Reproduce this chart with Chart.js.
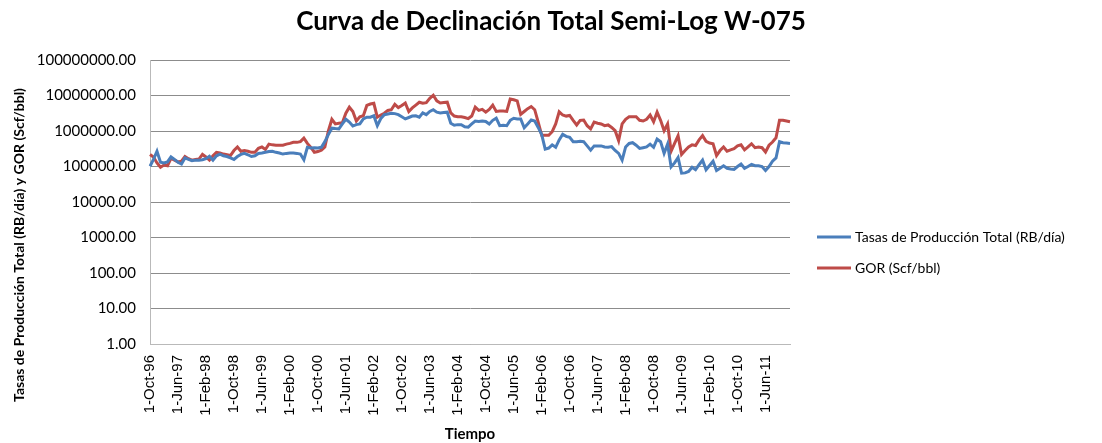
<!DOCTYPE html>
<html>
<head>
<meta charset="utf-8">
<script src="https://cdn.jsdelivr.net/npm/chart.js@4/dist/chart.umd.min.js"></script>
<style>
  html, body { margin: 0; padding: 0; background: #fff; }
  #wrap { width: 1102px; height: 443px; position: relative; }
</style>
</head>
<body>
<div id="wrap"><canvas id="chart" width="1102" height="443"></canvas></div>
<script>
// monthly data, Oct-96 .. Jan-12
const startYear = 1996;
const startMonth = 9; // October (0-based)
const monthNames = ['Jan', 'Feb', 'Mar', 'Apr', 'May', 'Jun', 'Jul', 'Aug', 'Sep', 'Oct', 'Nov', 'Dec'];

const tickLabels = ['1-Oct-96', '1-Jun-97', '1-Feb-98', '1-Oct-98', '1-Jun-99', '1-Feb-00', '1-Oct-00',
  '1-Jun-01', '1-Feb-02', '1-Oct-02', '1-Jun-03', '1-Feb-04', '1-Oct-04', '1-Jun-05', '1-Feb-06',
  '1-Oct-06', '1-Jun-07', '1-Feb-08', '1-Oct-08', '1-Jun-09', '1-Feb-10', '1-Oct-10', '1-Jun-11'];

const tasas = [
  102000, 158000, 269000, 132000, 126000, 135000, 186000, 158000, 132000, 117000,
  174000, 158000, 145000, 151000, 151000, 155000, 166000, 195000, 151000, 200000,
  224000, 200000, 191000, 174000, 158000, 191000, 219000, 234000, 214000, 191000,
  200000, 234000, 240000, 251000, 263000, 269000, 251000, 240000, 224000, 234000,
  240000, 240000, 234000, 224000, 155000, 347000, 331000, 339000, 331000, 347000,
  501000, 794000, 1200000, 1170000, 1150000, 1580000, 2140000, 1780000, 1380000, 1510000,
  1580000, 2190000, 2450000, 2450000, 2690000, 1410000, 2240000, 2880000, 3020000, 3160000,
  3090000, 2880000, 2510000, 2190000, 2400000, 2630000, 2690000, 2450000, 3240000, 2880000,
  3550000, 3980000, 3390000, 3240000, 3310000, 3390000, 1660000, 1450000, 1510000, 1510000,
  1320000, 1290000, 1580000, 1910000, 1860000, 1910000, 1860000, 1580000, 2000000, 2290000,
  1410000, 1450000, 1410000, 2000000, 2290000, 2190000, 2190000, 1230000, 1580000, 2040000,
  1910000, 1260000, 794000, 309000, 331000, 407000, 347000, 562000, 813000, 708000,
  661000, 501000, 501000, 513000, 501000, 380000, 288000, 380000, 380000, 380000,
  355000, 347000, 363000, 282000, 234000, 151000, 355000, 447000, 468000, 398000,
  324000, 339000, 355000, 427000, 347000, 589000, 501000, 234000, 427000, 97700,
  126000, 178000, 64600, 66100, 72400, 95500, 81300, 112000, 151000, 81300,
  107000, 141000, 77600, 89100, 105000, 89100, 85100, 83200, 100000, 117000,
  89100, 100000, 115000, 105000, 105000, 100000, 77600, 100000, 141000, 174000,
  501000, 468000, 457000, 447000
];

const gor = [
  219000, 186000, 126000, 95500, 110000, 105000, 170000, 151000, 135000, 141000,
  191000, 166000, 151000, 158000, 162000, 219000, 186000, 151000, 200000, 251000,
  240000, 224000, 214000, 204000, 282000, 355000, 269000, 282000, 269000, 251000,
  251000, 324000, 355000, 302000, 427000, 407000, 398000, 398000, 398000, 427000,
  447000, 479000, 479000, 501000, 631000, 447000, 347000, 251000, 263000, 288000,
  355000, 1000000, 2140000, 1580000, 1660000, 1700000, 3160000, 4680000, 3550000, 1910000,
  2510000, 2690000, 5250000, 5750000, 6030000, 2450000, 2820000, 3160000, 3800000, 3980000,
  5620000, 4570000, 5250000, 6170000, 3550000, 4470000, 5370000, 6460000, 6030000, 6310000,
  8320000, 10200000, 7080000, 6170000, 6310000, 6460000, 3240000, 2630000, 2510000, 2510000,
  2400000, 2240000, 2630000, 4680000, 3800000, 4070000, 3390000, 4070000, 5370000, 3550000,
  3630000, 3630000, 3550000, 7940000, 7590000, 7080000, 2950000, 3550000, 4270000, 4900000,
  3980000, 1780000, 759000, 759000, 759000, 955000, 1580000, 3470000, 2820000, 2630000,
  2750000, 2000000, 1480000, 2000000, 2040000, 1410000, 1150000, 1780000, 1660000, 1580000,
  1410000, 1480000, 1260000, 1020000, 537000, 1580000, 2140000, 2510000, 2510000, 2510000,
  2000000, 1910000, 2140000, 2820000, 1820000, 3390000, 2000000, 1020000, 1580000, 269000,
  447000, 741000, 219000, 282000, 355000, 407000, 389000, 562000, 741000, 513000,
  457000, 437000, 204000, 282000, 355000, 269000, 295000, 316000, 380000, 407000,
  295000, 355000, 437000, 339000, 355000, 339000, 257000, 398000, 490000, 646000,
  2000000, 2000000, 1910000, 1820000
];

const yTicks = [1, 10, 100, 1000, 10000, 100000, 1000000, 10000000, 100000000];

const categories = [];
for (let i = 0; i < tasas.length; i++) {
  const m = (startMonth + i) % 12;
  const y = startYear + Math.floor((startMonth + i) / 12);
  categories.push('1-' + monthNames[m] + '-' + String(y % 100).padStart(2, '0'));
}

const blue = '#4A7EBB';
const red = '#BE4B48';
const calibri = 'Lato, "Open Sans", sans-serif';

// title, legend and rotated y title drawn by hand, Excel style
const extras = {
  id: 'extras',
  afterDraw(chart) {
    const ctx = chart.ctx;
    ctx.save();
    ctx.fillStyle = '#000';
    ctx.textAlign = 'center';
    ctx.textBaseline = 'middle';
    ctx.font = 'bold 26px ' + calibri;
    ctx.fillText('Curva de Declinación Total Semi-Log W-075', 551, 22);

    const items = [
      { text: 'Tasas de Producción Total (RB/día)', color: blue, y: 237 },
      { text: 'GOR (Scf/bbl)', color: red, y: 268 }
    ];
    ctx.font = '14px ' + calibri;
    ctx.textAlign = 'left';
    items.forEach(it => {
      ctx.strokeStyle = it.color;
      ctx.lineWidth = 3;
      ctx.beginPath();
      ctx.moveTo(817, it.y);
      ctx.lineTo(851, it.y);
      ctx.stroke();
      ctx.fillText(it.text, 855, it.y);
    });

    ctx.translate(19, 245);
    ctx.rotate(-Math.PI / 2);
    ctx.font = 'bold 14px ' + calibri;
    ctx.textAlign = 'center';
    ctx.fillText('Tasas de Producción Total (RB/día) y GOR (Scf/bbl)', 0, 0);
    ctx.restore();
  }
};

new Chart(document.getElementById('chart'), {
  type: 'line',
  data: {
    labels: categories,
    datasets: [
      {
        label: 'Tasas de Producción Total (RB/día)',
        data: tasas,
        borderColor: blue,
        backgroundColor: blue,
        borderWidth: 3,
        pointRadius: 0,
        tension: 0
      },
      {
        label: 'GOR (Scf/bbl)',
        data: gor,
        borderColor: red,
        backgroundColor: red,
        borderWidth: 3,
        pointRadius: 0,
        tension: 0
      }
    ]
  },
  options: {
    responsive: false,
    animation: false,
    layout: { padding: { left: 0, right: 312, top: 60, bottom: 0 } },
    plugins: {
      legend: { display: false },
      tooltip: { enabled: false },
      title: { display: false }
    },
    scales: {
      x: {
        type: 'category',
        offset: false,
        grid: { display: false, drawTicks: false },
        border: { color: '#b9b9b9', width: 1 },
        ticks: {
          autoSkip: false,
          maxRotation: 90,
          minRotation: 90,
          padding: 11,
          color: '#000',
          font: { family: '"Liberation Sans", Arial, sans-serif', size: 15 },
          callback: (val, index) => index % 8 === 0 ? tickLabels[index / 8] : null
        },
        title: {
          display: true,
          text: 'Tiempo',
          color: '#000',
          font: { family: calibri, size: 15, weight: 'bold' },
          padding: { top: 6, bottom: 0 }
        },
        afterFit: axis => { axis.height = 99; }
      },
      y: {
        type: 'logarithmic',
        min: 1,
        max: 100000000,
        grid: { color: '#8c8c8c', lineWidth: 1, drawTicks: false },
        border: { color: '#b9b9b9', width: 1 },
        ticks: {
          padding: 14,
          color: '#000',
          font: { family: calibri, size: 15 },
          callback: v => Number(v).toFixed(2)
        },
        afterBuildTicks: axis => { axis.ticks = yTicks.map(v => ({ value: v })); },
        afterFit: axis => { axis.width = 150; }
      }
    }
  },
  plugins: [extras]
});
</script>
</body>
</html>
